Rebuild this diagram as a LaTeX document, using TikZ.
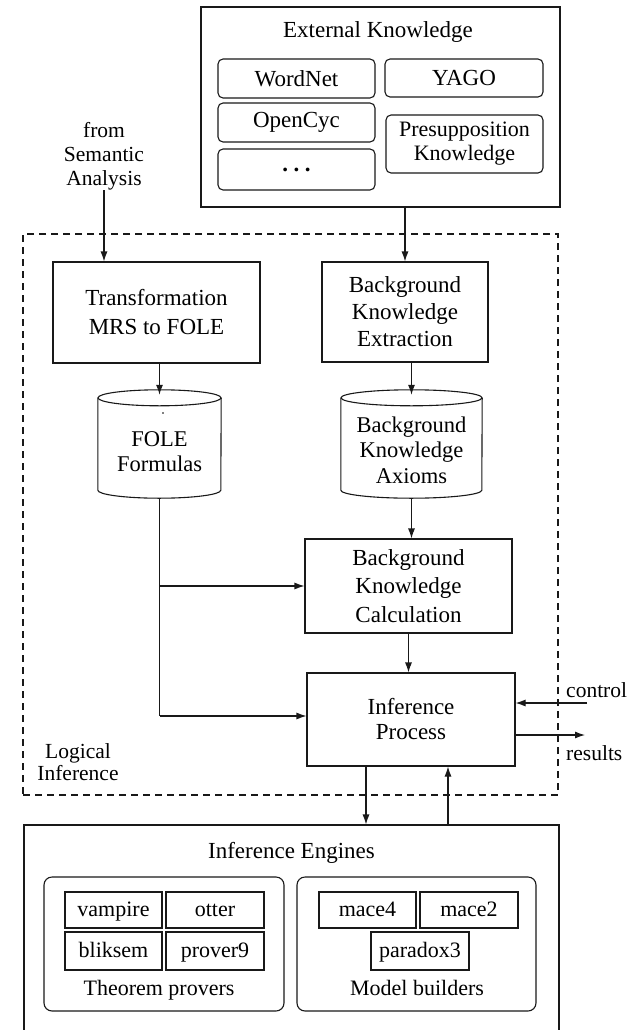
\documentclass[tikz,border=0pt]{standalone}
\usepackage{fontspec}
\setmainfont{Liberation Serif}
\usetikzlibrary{arrows.meta}
\begin{document}
\begin{tikzpicture}[x=1pt,y=-1pt,
  line/.style={line width=1.1pt, black!90},
  arr/.style={line, -{Latex[length=10pt,width=7pt]}},
  box/.style={draw, line width=1.1pt, black!90, text=black, inner sep=0pt, align=center,
              font=\fontsize{23}{27}\selectfont},
  rbox/.style={box, rounded corners=5pt},
  group/.style={draw, line width=1.1pt, black!90, rounded corners=8pt, inner sep=0pt},
  tool/.style={box, text height=16pt, text depth=4pt, font=\fontsize{22}{24}\selectfont},
  side/.style={align=center, inner sep=0pt, font=\fontsize{21.5}{24}\selectfont},
  title/.style={inner sep=0pt, anchor=base, font=\fontsize{23}{27}\selectfont},
  plain/.style={inner sep=0pt, align=center, font=\fontsize{23}{26}\selectfont},
  store/.style={inner sep=0pt}
]
\useasboundingbox (0,0) rectangle (639,1030);

% external knowledge sources
\node[box, minimum width=359pt, minimum height=200pt] (ek) at (380.5,107) {};
\node[title] (ektitle) at (378,38) {External Knowledge};
\node[rbox, minimum width=157pt, minimum height=39pt] (wordnet) at (296.5,78.5) {WordNet};
\node[rbox, minimum width=158pt, minimum height=38pt] (yago) at (464,78) {YAGO};
\node[rbox, minimum width=157pt, minimum height=39pt] (opencyc) at (296.5,122.5) {OpenCyc};
\node[rbox, minimum width=157pt, minimum height=41pt] (more) at (296.5,169.5) {\textbf{.\hspace{5.5pt}.\hspace{5.5pt}.}};
\node[rbox, minimum width=157pt, minimum height=58pt, font=\fontsize{22}{24}\selectfont] (presup) at (464.5,144) {Presupposition\\Knowledge};

% input label
\node[side] (from) at (104,156) {from\\Semantic\\Analysis};

% logical inference frame
\node[draw, line width=1.2pt, black!90, dash pattern=on 7pt off 5pt, minimum width=535pt, minimum height=561pt, inner sep=0pt] (logic) at (290.5,514.5) {};
\node[side, font=\fontsize{21.5}{22.5}\selectfont] (logiclabel) at (78,762) {Logical\\Inference};

% processing steps
\node[box, minimum width=207pt, minimum height=101pt, font=\fontsize{23}{29}\selectfont] (trans) at (156.5,312.5) {Transformation\\MRS to FOLE};
\node[box, minimum width=166pt, minimum height=100pt] (bke) at (405,312) {Background\\Knowledge\\Extraction};
\node[box, minimum width=207pt, minimum height=94pt, font=\fontsize{23}{28.5}\selectfont] (bkc) at (408.5,586) {Background\\Knowledge\\Calculation};
\node[box, minimum width=208pt, minimum height=93pt, font=\fontsize{23}{25}\selectfont] (inf) at (411,719.5) {Inference\\Process};

% data stores (cylinders)
\node[store, minimum width=123pt, minimum height=108pt] (fole) at (159.5,444) {};
\draw[line] ([yshift=-8pt]fole.north west) -- ([yshift=8pt]fole.south west)
  arc[start angle=180, end angle=360, x radius=61.5pt, y radius=8pt] -- ([yshift=-8pt]fole.north east);
\draw[line] ([yshift=-8pt]fole.north) ellipse[x radius=61.5pt, y radius=8pt];
\node[plain, font=\fontsize{22.5}{25}\selectfont] (foletext) at (159.5,452) {FOLE\\Formulas};
\fill (163,413) circle[radius=0.8pt];

\node[store, minimum width=141pt, minimum height=108pt] (bka) at (411.5,444) {};
\draw[line] ([yshift=-8pt]bka.north west) -- ([yshift=8pt]bka.south west)
  arc[start angle=180, end angle=360, x radius=70.5pt, y radius=8pt] -- ([yshift=-8pt]bka.north east);
\draw[line] ([yshift=-8pt]bka.north) ellipse[x radius=70.5pt, y radius=8pt];
\node[plain, font=\fontsize{22.5}{25.7}\selectfont] (bkatext) at (411.5,450) {Background\\Knowledge\\Axioms};

% inference engines
\node[box, minimum width=535pt, minimum height=215pt] (eng) at (291.5,932.5) {};
\node[title] (engtitle) at (291.5,858) {Inference Engines};
\node[group, minimum width=240pt, minimum height=134pt] (tp) at (164,944) {};
\node[group, minimum width=239pt, minimum height=134pt] (mb) at (416.5,944) {};
\node[tool, minimum width=97pt, minimum height=36pt] (vampire) at (113.5,910) {vampire};
\node[tool, minimum width=98pt, minimum height=36pt] (otter) at (215,910) {otter};
\node[tool, minimum width=97pt, minimum height=38pt] (bliksem) at (113.5,951) {bliksem};
\node[tool, minimum width=98pt, minimum height=38pt] (prover9) at (215,951) {prover9};
\node[tool, minimum width=97pt, minimum height=36pt] (mace4) at (367.5,910) {mace4};
\node[tool, minimum width=98pt, minimum height=36pt] (mace2) at (469,910) {mace2};
\node[tool, minimum width=98pt, minimum height=38pt] (paradox3) at (420,951) {paradox3};
\node[title, font=\fontsize{22}{24}\selectfont] (tplabel) at (159,995) {Theorem provers};
\node[title, font=\fontsize{22}{24}\selectfont] (mblabel) at (417,995) {Model builders};

% outside interfaces
\coordinate (ctl) at (587,703);
\coordinate (res) at (585,735);
\node[side, anchor=base west] (ctllabel) at (566,697) {control};
\node[side, anchor=base west] (reslabel) at (566,760) {results};

% connectors
\draw[arr] (from.south) -- (from.south |- trans.north);
\draw[arr] (bke.north |- ek.south) -- (bke.north);
\draw[arr] (fole.north |- trans.south) -- ([yshift=-5pt]fole.north);
\draw[arr] (bka.north |- bke.south) -- ([yshift=-5pt]bka.north);
\draw[arr] (bka.south) -- (bka.south |- bkc.north);
\draw[line] (fole.south) -- (fole.south |- 0,716);
\draw[arr] (fole.south |- 0,716) -- (inf.west |- 0,716);
\draw[arr] (fole.south |- bkc.west) -- (bkc.west);
\draw[arr] (bkc.south) -- (bkc.south |- inf.north);
\draw[arr] (ctl) -- (ctl -| inf.east);
\draw[arr] (res -| inf.east) -- (res);
\draw[arr] ([xshift=-45pt]inf.south) -- ([xshift=-45pt]inf.south |- eng.north);
\draw[arr] ([xshift=37pt]inf.south |- eng.north) -- ([xshift=37pt]inf.south);
\end{tikzpicture}
\end{document}
